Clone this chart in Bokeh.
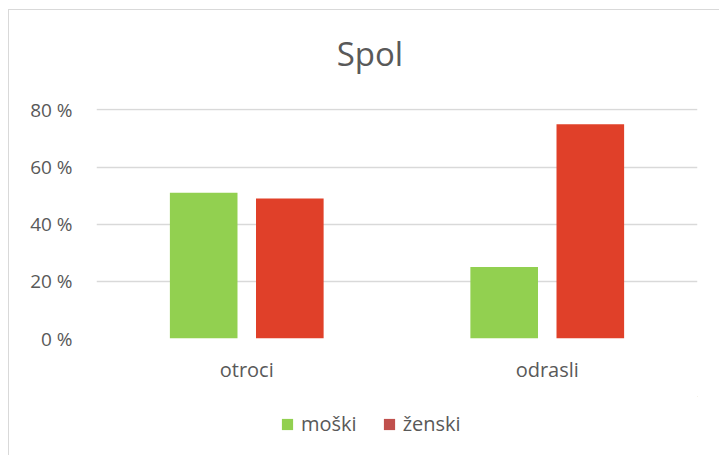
from bokeh.plotting import figure
from bokeh.layouts import column
from bokeh.models import (FactorRange, Range1d, FixedTicker, PrintfTickFormatter,
                          Legend, LegendItem, ColumnDataSource, Label)
from bokeh.transform import dodge
from bokeh.embed import file_html
from bokeh.resources import INLINE

categories = ["otroci", "odrasli"]
moski = [51, 25]
zenski = [49, 75]
y_ticks = [0, 20, 40, 60, 80]
title_text = "Spol"
series_names = ["moški", "ženski"]

FONT = "Open Sans"
TXT = "#595959"
GREEN = "#92D050"
RED = "#E04029"
RED_LEGEND = "#C0504D"
GRID = "#d9d9d9"


def blank(h):
    f = figure(width=710, height=h, x_range=Range1d(0, 1), y_range=Range1d(0, 1),
               output_backend="svg", toolbar_location=None,
               x_axis_type=None, y_axis_type=None, min_border=0)
    f.outline_line_color = None
    f.xgrid.grid_line_color = None
    f.ygrid.grid_line_color = None
    return f


# title figure (frame aligned with the chart frame by the column)
tf = blank(80)
tf.add_layout(Label(x=0.455, y=0.46, text=title_text, text_align="center",
                    text_baseline="alphabetic", text_font=FONT,
                    text_font_size="33px", text_color=TXT))

src = ColumnDataSource(dict(cat=categories, m=moski, z=zenski))

p = figure(width=710, height=306, x_range=FactorRange(*categories),
           y_range=Range1d(0, 80.5), output_backend="svg", toolbar_location=None,
           min_border_left=87, min_border_right=22, min_border_top=18,
           min_border_bottom=58)
p.outline_line_color = None
p.background_fill_color = "white"
p.border_fill_color = "white"

p.vbar(x=dodge("cat", -0.1433, range=p.x_range), top="m", width=0.225,
       source=src, fill_color=GREEN, line_color=None)
p.vbar(x=dodge("cat", 0.1433, range=p.x_range), top="z", width=0.225,
       source=src, fill_color=RED, line_color=None)

p.xgrid.grid_line_color = None
p.ygrid.grid_line_color = GRID
p.ygrid.grid_line_width = 1.3
p.yaxis.ticker = FixedTicker(ticks=y_ticks)
p.yaxis.formatter = PrintfTickFormatter(format="%d %%")

for ax in (p.xaxis[0], p.yaxis[0]):
    ax.axis_line_color = None
    ax.major_tick_line_color = None
    ax.minor_tick_line_color = None
    ax.major_label_text_font = FONT
    ax.major_label_text_font_size = "19px"
    ax.major_label_text_color = TXT
p.yaxis.major_label_standoff = 18
p.xaxis.major_label_standoff = 11
p.xaxis.major_label_text_font_size = "20px"

# legend figure
lf = blank(59)
lg_m = lf.vbar(x=[5.0], top=[5.0], bottom=[4.0], width=0.1, fill_color=GREEN, line_color=None)
lg_z = lf.vbar(x=[5.0], top=[5.0], bottom=[4.0], width=0.1, fill_color=RED_LEGEND, line_color=None)
legend = Legend(items=[LegendItem(label=series_names[0], renderers=[lg_m]),
                       LegendItem(label=series_names[1], renderers=[lg_z])],
                orientation="horizontal", location=(184, 18),
                glyph_width=14, glyph_height=14, label_text_font=FONT,
                label_text_font_size="20px", label_text_color=TXT,
                border_line_color=None, background_fill_alpha=0,
                spacing=25, label_standoff=7, margin=0, padding=0)
lf.add_layout(legend)

layout = column(tf, p, lf, spacing=0, margin=(9, 0, 0, 8),
                styles={"border-left": "1px solid #d9d9d9",
                        "border-top": "1px solid #d9d9d9"})

open("out.html", "w").write(file_html(layout, INLINE))
